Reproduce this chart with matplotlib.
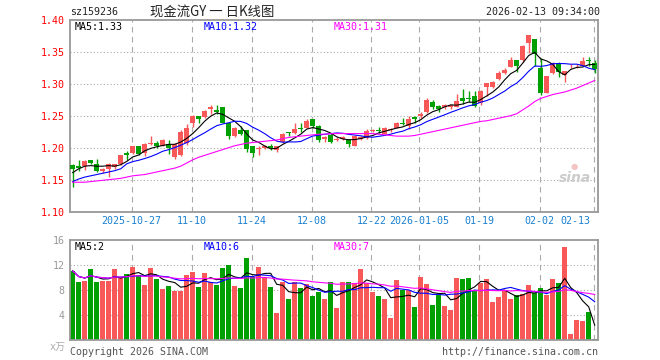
import matplotlib
matplotlib.use('Agg')
import matplotlib.pyplot as plt
import numpy as np
import pandas as pd

# ---------------- data ----------------
open_ = [1.174, 1.172, 1.172, 1.181, 1.175, 1.165, 1.168, 1.171, 1.175, 1.192,
         1.192, 1.203, 1.192, 1.207, 1.209, 1.204, 1.207, 1.187, 1.190, 1.208,
         1.239, 1.250, 1.249, 1.261, 1.260, 1.264, 1.240, 1.219, 1.229, 1.229,
         1.203, 1.199, 1.201, 1.203, 1.197, 1.210, 1.226, 1.224, 1.231, 1.232,
         1.245, 1.235, 1.214, 1.221, 1.213, 1.215, 1.213, 1.204, 1.215, 1.216,
         1.227, 1.228, 1.223, 1.228, 1.232, 1.240, 1.235, 1.249, 1.251, 1.256,
         1.273, 1.266, 1.264, 1.265, 1.265, 1.279, 1.278, 1.282, 1.271, 1.296,
         1.296, 1.308, 1.317, 1.327, 1.338, 1.338, 1.364, 1.371, 1.326, 1.287,
         1.318, 1.334, 1.315, 1.328, 1.328, 1.329, 1.338, 1.334]
high = [1.175, 1.182, 1.181, 1.182, 1.183, 1.169, 1.177, 1.176, 1.190, 1.196,
        1.204, 1.204, 1.208, 1.220, 1.212, 1.214, 1.213, 1.208, 1.229, 1.238,
        1.252, 1.250, 1.260, 1.267, 1.267, 1.264, 1.240, 1.233, 1.235, 1.229,
        1.203, 1.203, 1.205, 1.206, 1.204, 1.224, 1.226, 1.239, 1.239, 1.245,
        1.246, 1.237, 1.219, 1.224, 1.218, 1.219, 1.215, 1.220, 1.219, 1.230,
        1.230, 1.233, 1.233, 1.232, 1.241, 1.247, 1.250, 1.251, 1.256, 1.278,
        1.275, 1.268, 1.269, 1.270, 1.285, 1.293, 1.289, 1.289, 1.291, 1.302,
        1.305, 1.320, 1.325, 1.343, 1.338, 1.361, 1.377, 1.371, 1.341, 1.313,
        1.335, 1.335, 1.321, 1.332, 1.331, 1.342, 1.342, 1.338]
low = [1.139, 1.165, 1.166, 1.175, 1.163, 1.162, 1.155, 1.168, 1.174, 1.182,
       1.191, 1.190, 1.188, 1.205, 1.200, 1.203, 1.191, 1.184, 1.188, 1.205,
       1.233, 1.239, 1.247, 1.254, 1.254, 1.239, 1.214, 1.217, 1.221, 1.195,
       1.187, 1.190, 1.199, 1.198, 1.194, 1.209, 1.220, 1.222, 1.226, 1.231,
       1.232, 1.210, 1.210, 1.209, 1.211, 1.213, 1.202, 1.203, 1.213, 1.215,
       1.225, 1.224, 1.222, 1.225, 1.231, 1.237, 1.230, 1.239, 1.247, 1.255,
       1.262, 1.257, 1.262, 1.262, 1.264, 1.270, 1.273, 1.264, 1.267, 1.282,
       1.295, 1.306, 1.316, 1.327, 1.319, 1.335, 1.349, 1.328, 1.283, 1.286,
       1.316, 1.311, 1.303, 1.325, 1.325, 1.328, 1.328, 1.317]
close = [1.168, 1.170, 1.180, 1.177, 1.165, 1.168, 1.175, 1.175, 1.189, 1.190,
         1.203, 1.191, 1.207, 1.208, 1.203, 1.213, 1.200, 1.207, 1.226, 1.231,
         1.251, 1.246, 1.258, 1.265, 1.256, 1.240, 1.219, 1.231, 1.223, 1.199,
         1.193, 1.200, 1.203, 1.201, 1.203, 1.223, 1.224, 1.230, 1.230, 1.243,
         1.235, 1.213, 1.218, 1.210, 1.214, 1.218, 1.207, 1.219, 1.218, 1.227,
         1.229, 1.227, 1.232, 1.230, 1.240, 1.238, 1.246, 1.246, 1.253, 1.276,
         1.265, 1.262, 1.268, 1.268, 1.274, 1.274, 1.277, 1.266, 1.290, 1.302,
         1.304, 1.317, 1.322, 1.338, 1.328, 1.360, 1.377, 1.347, 1.286, 1.313,
         1.334, 1.319, 1.321, 1.329, 1.329, 1.337, 1.337, 1.324]
volume = [11.1, 9.3, 9.5, 11.4, 9.3, 9.5, 9.5, 11.4, 10.1, 10.6,
          11.7, 10.4, 8.9, 11.6, 9.8, 8.2, 8.7, 7.9, 7.9, 10.5,
          10.9, 8.5, 10.8, 9.4, 8.9, 11.6, 12.1, 8.7, 8.4, 13.2,
          10.1, 11.7, 10.1, 8.5, 4.4, 9.3, 6.6, 9.3, 8.4, 9.0,
          7.1, 7.7, 6.6, 9.3, 5.2, 9.3, 9.3, 9.2, 11.4, 9.1,
          7.7, 7.1, 6.6, 3.6, 9.7, 8.1, 8.1, 5.3, 10.1, 9.0,
          5.7, 7.3, 5.5, 4.9, 10.0, 9.8, 10.0, 8.1, 9.2, 9.8,
          6.1, 6.9, 8.1, 6.6, 7.3, 7.4, 8.9, 7.6, 8.4, 7.3,
          9.8, 9.2, 14.9, 1.0, 3.3, 3.1, 4.5, 0.2]
# moving-average values at the first bars (history before the window)
ma5_head = [1.162, 1.168, 1.172, 1.173]
ma10_head = [1.148, 1.152, 1.155, 1.157, 1.159, 1.161, 1.163, 1.165, 1.168]
ma30 = [1.147, 1.147, 1.147, 1.148, 1.149, 1.150, 1.151, 1.152, 1.153, 1.155,
        1.157, 1.158, 1.159, 1.161, 1.163, 1.165, 1.167, 1.169, 1.172, 1.177,
        1.182, 1.186, 1.189, 1.192, 1.195, 1.198, 1.201, 1.204, 1.206, 1.208,
        1.209, 1.210, 1.211, 1.212, 1.213, 1.215, 1.217, 1.218, 1.219, 1.220,
        1.221, 1.222, 1.222, 1.223, 1.223, 1.223, 1.223, 1.223, 1.223, 1.223,
        1.223, 1.222, 1.221, 1.220, 1.219, 1.219, 1.219, 1.220, 1.222, 1.224,
        1.226, 1.228, 1.230, 1.232, 1.234, 1.236, 1.238, 1.240, 1.242, 1.243,
        1.245, 1.247, 1.249, 1.251, 1.254, 1.260, 1.266, 1.273, 1.278, 1.281,
        1.284, 1.286, 1.288, 1.291, 1.294, 1.298, 1.302, 1.306]
date_idx = [10, 20, 30, 40, 50, 58, 68, 78, 87]
date_labels = ['2025-10-27', '11-10', '11-24', '12-08', '12-22', '2026-01-05',
               '01-19', '02-02', '02-13']
price_ticks = [1.10, 1.15, 1.20, 1.25, 1.30, 1.35, 1.40]
vol_ticks = [4, 8, 12, 16]
code = 'sz159236'
title = '现金流GY 一 日K线图'
stamp = '2026-02-13 09:34:00'

# ---------------- styling ----------------
RED = '#f95858'
GREEN = '#00a000'
GRID = '#aaaaaa'
BORDER = '#999999'
MONO = ['DejaVu Sans Mono', 'Noto Sans CJK SC']
FS = 7.2

W, H = 660, 360
fig = plt.figure(figsize=(W / 100, H / 100), dpi=100)
fig.patch.set_facecolor('white')

L, R = 70, 598
main_top, main_bot = 20.3, 212.3
vol_top, vol_bot = 240.3, 340.3
ax = fig.add_axes([L / W, 1 - main_bot / H, (R - L) / W, (main_bot - main_top) / H])
axv = fig.add_axes([L / W, 1 - vol_bot / H, (R - L) / W, (vol_bot - vol_top) / H])

n = len(close)
x = np.arange(n)
o = np.array(open_); c = np.array(close); hi = np.array(high); lo = np.array(low)
up = c >= o
cols = np.where(up, RED, GREEN)

x0 = (L - 72.7) / 6.0
x1 = (R - 72.7) / 6.0

# moving averages
cs = pd.Series(close)
ma5 = cs.rolling(5).mean().to_numpy()
ma5[:len(ma5_head)] = ma5_head
ma10 = cs.rolling(10).mean().to_numpy()
ma10[:len(ma10_head)] = ma10_head
vs = pd.Series(volume)
vma5 = vs.rolling(5, min_periods=1).mean().to_numpy()
vma10 = vs.rolling(10, min_periods=1).mean().to_numpy()
vma30 = vs.rolling(30, min_periods=1).mean().to_numpy()

for a, lo_, hi_ in ((ax, 1.10, 1.40), (axv, 0, 16)):
    a.set_xlim(x0, x1)
    a.set_ylim(lo_, hi_)
    for s in a.spines.values():
        s.set_color(BORDER)
        s.set_linewidth(1.3)
    a.tick_params(length=0)
    a.set_xticks([])
    for d in date_idx:
        a.axvline(d - 0.2, color=GRID, lw=0.8, ls=(0, (5, 4)), zorder=0)

# price panel
for p in price_ticks[1:-1]:
    ax.axhline(p, color=GRID, lw=0.8, ls=(0, (1, 2)), zorder=0)
ax.set_yticks(price_ticks)
ax.set_yticklabels(['%.2f' % p for p in price_ticks], color='#ff0000',
                   family=MONO, fontsize=FS)
ax.tick_params(axis='y', pad=4)

bw = 0.78
ax.vlines(x, lo, hi, colors=cols, lw=1.0, zorder=2)
body_h = np.maximum(np.abs(c - o), 0.0012)
ax.bar(x, body_h, bottom=np.minimum(o, c), width=bw, color=cols,
       edgecolor=cols, linewidth=0, zorder=3)
ax.plot(x, ma5, color='black', lw=0.8, zorder=4)
ax.plot(x, ma10, color='#0000ff', lw=0.8, zorder=4)
ax.plot(x, ma30, color='#ff00ff', lw=0.8, zorder=4)

for k, lab in zip(date_idx, date_labels):
    if lab == '02-13':
        ax.text(86.2, -0.045, lab, transform=ax.get_xaxis_transform(),
                ha='right', va='center', color='#1a80d0', family=MONO, fontsize=FS)
    else:
        ax.text(k - 0.2, -0.045, lab, transform=ax.get_xaxis_transform(),
                ha='center', va='center', color='#1a80d0', family=MONO, fontsize=FS)

# volume panel
for v in vol_ticks[:-1]:
    axv.axhline(v, color=GRID, lw=0.8, ls=(0, (1, 2)), zorder=0)
axv.set_yticks(vol_ticks)
axv.set_yticklabels([str(v) for v in vol_ticks], color='#999999',
                    family=MONO, fontsize=FS)
axv.tick_params(axis='y', pad=4)
axv.bar(x, volume, width=bw, color=cols, linewidth=0, zorder=2)
axv.plot(x, vma5, color='black', lw=0.8, zorder=4)
axv.plot(x, vma10, color='#0000ff', lw=0.8, zorder=4)
axv.plot(x, vma30, color='#ff00ff', lw=0.8, zorder=4)

# texts (figure pixel coordinates, y from top)
def ftext(px, py, s, **kw):
    kw.setdefault('family', MONO)
    kw.setdefault('fontsize', FS)
    kw.setdefault('va', 'center')
    fig.text(px / W, 1 - py / H, s, **kw)

ftext(70, 12, code, color='#222222')
ftext(150, 12.5, title, color='#222222', family=['Noto Sans CJK SC', 'DejaVu Sans'],
      fontsize=9.6)
ftext(600, 12, stamp, color='#222222', ha='right')

ftext(75, 27, 'MA5:%.2f' % ma5[-1], color='black')
ftext(204, 27, 'MA10:%.2f' % ma10[-1], color='#0000ff')
ftext(334, 27, 'MA30:%.2f' % ma30[-1], color='#ff00ff')

ftext(75, 247, 'MA5:%d' % int(vma5[-1]), color='black')
ftext(204, 247, 'MA10:%d' % int(vma10[-1]), color='#0000ff')
ftext(334, 247, 'MA30:%d' % int(vma30[-1]), color='#ff00ff')

ftext(66, 347, 'x万', color='#aaaaaa', ha='right')
ftext(70, 352, 'Copyright 2026 SINA.COM', color='#555555')
ftext(598, 352, 'http://finance.sina.com.cn', color='#555555', ha='right')

# sina watermark
ftext(575, 178, 'sina', color='#cccccc', family='DejaVu Sans', fontsize=10,
      fontstyle='italic', fontweight='bold', ha='center')
ftext(574, 166, '●', color='#f2c4c4', family='DejaVu Sans', fontsize=6, ha='center')

fig.savefig('out.png', dpi=100, facecolor='white')
